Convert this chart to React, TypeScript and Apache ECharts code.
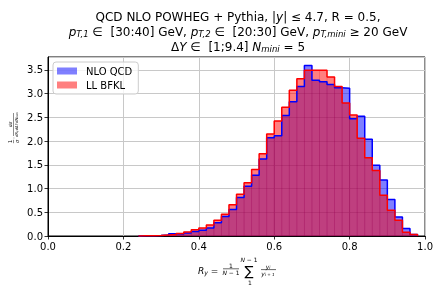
import React, { useEffect, useRef } from 'react';
import * as echarts from 'echarts';

// Histogram binning (left edge of first filled bin, bin width)
const binStart = 0.24;
const binWidth = 0.02;

// Normalised distributions, one value per bin
const nloQcd = [
  0.005, 0.006, 0.01, 0.02, 0.05, 0.04, 0.065, 0.095, 0.12, 0.17,
  0.28, 0.41, 0.56, 0.81, 1.05, 1.28, 1.62, 2.07, 2.11, 2.54,
  2.83, 3.15, 3.59, 3.28, 3.25, 3.19, 3.12, 3.11, 2.47, 2.52,
  2.04, 1.49, 1.18, 0.77, 0.4, 0.16, 0.03,
];
const llBfkl = [
  0.005, 0.007, 0.01, 0.02, 0.03, 0.055, 0.085, 0.13, 0.17, 0.23,
  0.33, 0.46, 0.66, 0.88, 1.12, 1.4, 1.73, 2.15, 2.42, 2.71,
  3.07, 3.31, 3.49, 3.49, 3.49, 3.35, 3.15, 2.8, 2.55, 2.06,
  1.65, 1.38, 0.86, 0.54, 0.33, 0.08, 0.03,
];

const seriesNames = ['NLO QCD', 'LL BFKL'];
const xMin = 0;
const xMax = 1;
const xInterval = 0.2;
const yMin = 0;
const yMax = 3.77;
const yInterval = 0.5;

const FONT = 'DejaVu Sans';

function stepOutline(values: number[]) {
  const pts: number[][] = [[binStart, 0]];
  values.forEach((v, i) => {
    const l = +(binStart + i * binWidth).toFixed(4);
    const r = +(binStart + (i + 1) * binWidth).toFixed(4);
    pts.push([l, v], [r, v]);
  });
  pts.push([+(binStart + values.length * binWidth).toFixed(4), 0]);
  return pts;
}

function binData(values: number[]) {
  return values.map((v, i) => [+(binStart + i * binWidth).toFixed(4), v]);
}

export default function App() {
  const ref = useRef<HTMLDivElement>(null);
  useEffect(() => {
    const chart = echarts.init(ref.current!, null, { renderer: 'svg' });

    const rich12: any = {
      n: { fontFamily: FONT, fontSize: 12, color: '#000', lineHeight: 14 },
      i: { fontFamily: FONT, fontSize: 12, fontStyle: 'italic', color: '#000', lineHeight: 14 },
      s: { fontFamily: FONT, fontSize: 8.5, fontStyle: 'italic', color: '#000', verticalAlign: 'bottom', lineHeight: 9 },
    };
    const richSmall = (fs: number): any => ({
      n: { fontFamily: FONT, fontSize: fs, color: '#000' },
      i: { fontFamily: FONT, fontSize: fs, fontStyle: 'italic', color: '#000' },
      s: { fontFamily: FONT, fontSize: fs * 0.7, fontStyle: 'italic', color: '#000', verticalAlign: 'bottom', lineHeight: fs * 0.7 },
    });

    const titleX = 238;
    const txt = (x: number, y: number, text: string, rich: any, align = 'center', extra: any = {}) => ({
      type: 'text',
      x,
      y,
      silent: true,
      style: { text, rich, align, verticalAlign: 'middle', fontFamily: FONT, ...extra },
    });
    const bar = (x1: number, y1: number, x2: number, y2: number, w = 0.6) => ({
      type: 'line',
      silent: true,
      shape: { x1, y1, x2, y2 },
      style: { stroke: '#000', lineWidth: w },
    });

    const yl = richSmall(3.8);
    const yLabelGroup = {
      type: 'group',
      x: 13.5,
      y: 130,
      rotation: Math.PI / 2,
      children: [
        txt(-11.5, -3.2, '{n|1}', richSmall(5)),
        bar(-13.2, 0, -9.8, 0, 0.45),
        txt(-11.5, 3.4, '{i|σ}', richSmall(5)),
        txt(-8, 0, '{n|·}', richSmall(6)),
        txt(5.5, -3.0, '{i|dσ}', richSmall(4.4)),
        bar(-6, 0, 17, 0, 0.45),
        txt(5.5, 3.3, '{i|dR}{s|y}{i|dΔYdN}{s|mini}', yl),
      ],
    };

    const xl9 = richSmall(9);
    const xl6 = richSmall(6);
    const xLabel = [
      txt(198, 271, '{i|R}{s|y}{n| =}', xl9, 'left'),
      txt(231, 265.8, '{n|1}', xl6),
      bar(223, 268.8, 239, 268.8),
      txt(231, 272.5, '{i|N}{n| − 1}', xl6),
      txt(249, 271, '{n|∑}', richSmall(13.5)),
      txt(249, 259.8, '{i|N}{n| − 1}', xl6),
      txt(250, 282, '{n|1}', xl6),
      txt(268, 266, '{i|y}{s|i}', xl6),
      bar(261, 269.6, 276, 269.6),
      txt(268, 273.8, '{i|y}{s|i + 1}', xl6),
    ];

    const titles = [
      txt(titleX, 16.5, '{n|QCD NLO POWHEG + Pythia, |}{i|y}{n|| ≤ 4.7, R = 0.5,}', rich12),
      txt(titleX, 31.5, '{i|p}{s|T,1}{n| ∈  [30:40] GeV, }{i|p}{s|T,2}{n| ∈  [20:30] GeV, }{i|p}{s|T,mini}{n| ≥ 20 GeV}', rich12),
      txt(titleX, 46.5, '{n|Δ}{i|Y}{n| ∈  [1;9.4] }{i|N}{s|mini}{n| = 5}', rich12),
    ];

    const blueFill = 'rgba(0,0,255,0.5)';
    const redFill = 'rgba(255,0,0,0.5)';

    const binEdges = (name: string, values: number[], stroke: string) => ({
      type: 'custom',
      name,
      data: binData(values),
      silent: true,
      renderItem: (params: any, api: any) => {
        const l = api.value(0);
        const v = api.value(1);
        const p0 = api.coord([l, v]);
        const p1 = api.coord([l + binWidth, 0]);
        return {
          type: 'rect',
          shape: { x: p0[0], y: p0[1], width: p1[0] - p0[0], height: p1[1] - p0[1] },
          style: { fill: 'none', stroke, lineWidth: 0.6 },
        };
      },
    });

    chart.setOption({
      animation: false,
      textStyle: { fontFamily: FONT },
      grid: {
        left: 48,
        right: 8,
        top: 57,
        bottom: 55,
        show: true,
        borderColor: '#000',
        borderWidth: 1,
        backgroundColor: 'transparent',
      },
      legend: {
        orient: 'vertical',
        left: 53,
        top: 62,
        padding: [4, 6, 4, 4],
        itemWidth: 20,
        itemHeight: 7,
        itemGap: 4,
        backgroundColor: 'rgba(255,255,255,0.8)',
        borderColor: '#cccccc',
        borderWidth: 1,
        borderRadius: 3,
        textStyle: { fontFamily: FONT, fontSize: 10, color: '#000', padding: [0, 0, 0, 4] },
        data: [
          { name: seriesNames[0], icon: 'rect', itemStyle: { color: blueFill, borderWidth: 0 } },
          { name: seriesNames[1], icon: 'rect', itemStyle: { color: redFill, borderWidth: 0 } },
        ],
      },
      xAxis: {
        type: 'value',
        min: xMin,
        max: xMax,
        interval: xInterval,
        axisLine: { show: true, lineStyle: { color: '#000', width: 1 } },
        axisTick: { show: true, length: 3.5, lineStyle: { color: '#000', width: 0.8 } },
        axisLabel: {
          color: '#000',
          fontSize: 10,
          fontFamily: FONT,
          margin: 5,
          formatter: (v: number) => v.toFixed(1),
        },
        splitLine: { show: true, lineStyle: { color: '#c8c8c8', width: 1 } },
      },
      yAxis: {
        type: 'value',
        min: yMin,
        max: yMax,
        interval: yInterval,
        axisLine: { show: true, lineStyle: { color: '#000', width: 1 } },
        axisTick: { show: true, length: 3.5, lineStyle: { color: '#000', width: 0.8 } },
        axisLabel: {
          color: '#000',
          fontSize: 10,
          fontFamily: FONT,
          margin: 5,
          showMaxLabel: false,
          formatter: (v: number) => (Math.abs(v / yInterval - Math.round(v / yInterval)) < 1e-6 ? v.toFixed(1) : ''),
        },
        splitLine: { show: true, lineStyle: { color: '#c8c8c8', width: 1 } },
      },
      series: [
        {
          type: 'line',
          name: seriesNames[0],
          data: stepOutline(nloQcd),
          symbol: 'none',
          lineStyle: { width: 0, opacity: 0 },
          areaStyle: { color: blueFill, opacity: 1 },
          itemStyle: { color: blueFill },
        },
        {
          type: 'line',
          name: seriesNames[1],
          data: stepOutline(llBfkl),
          symbol: 'none',
          lineStyle: { width: 0, opacity: 0 },
          areaStyle: { color: redFill, opacity: 1 },
          itemStyle: { color: redFill },
        },
        binEdges(seriesNames[0] + ' bins', nloQcd, 'rgba(0,0,200,0.18)'),
        binEdges(seriesNames[1] + ' bins', llBfkl, 'rgba(200,0,0,0.18)'),
        {
          type: 'line',
          name: seriesNames[0] + ' edge',
          data: stepOutline(nloQcd),
          symbol: 'none',
          lineStyle: { color: '#0000ff', width: 1.5 },
        },
        {
          type: 'line',
          name: seriesNames[1] + ' edge',
          data: stepOutline(llBfkl),
          symbol: 'none',
          lineStyle: { color: '#ff0000', width: 1.5 },
        },
      ],
      graphic: [...titles, yLabelGroup, ...xLabel],
    });
    return () => chart.dispose();
  }, []);
  return <div ref={ref} style={{ position: 'fixed', left: 0, top: 0, width: 436, height: 291 }} />;
}
